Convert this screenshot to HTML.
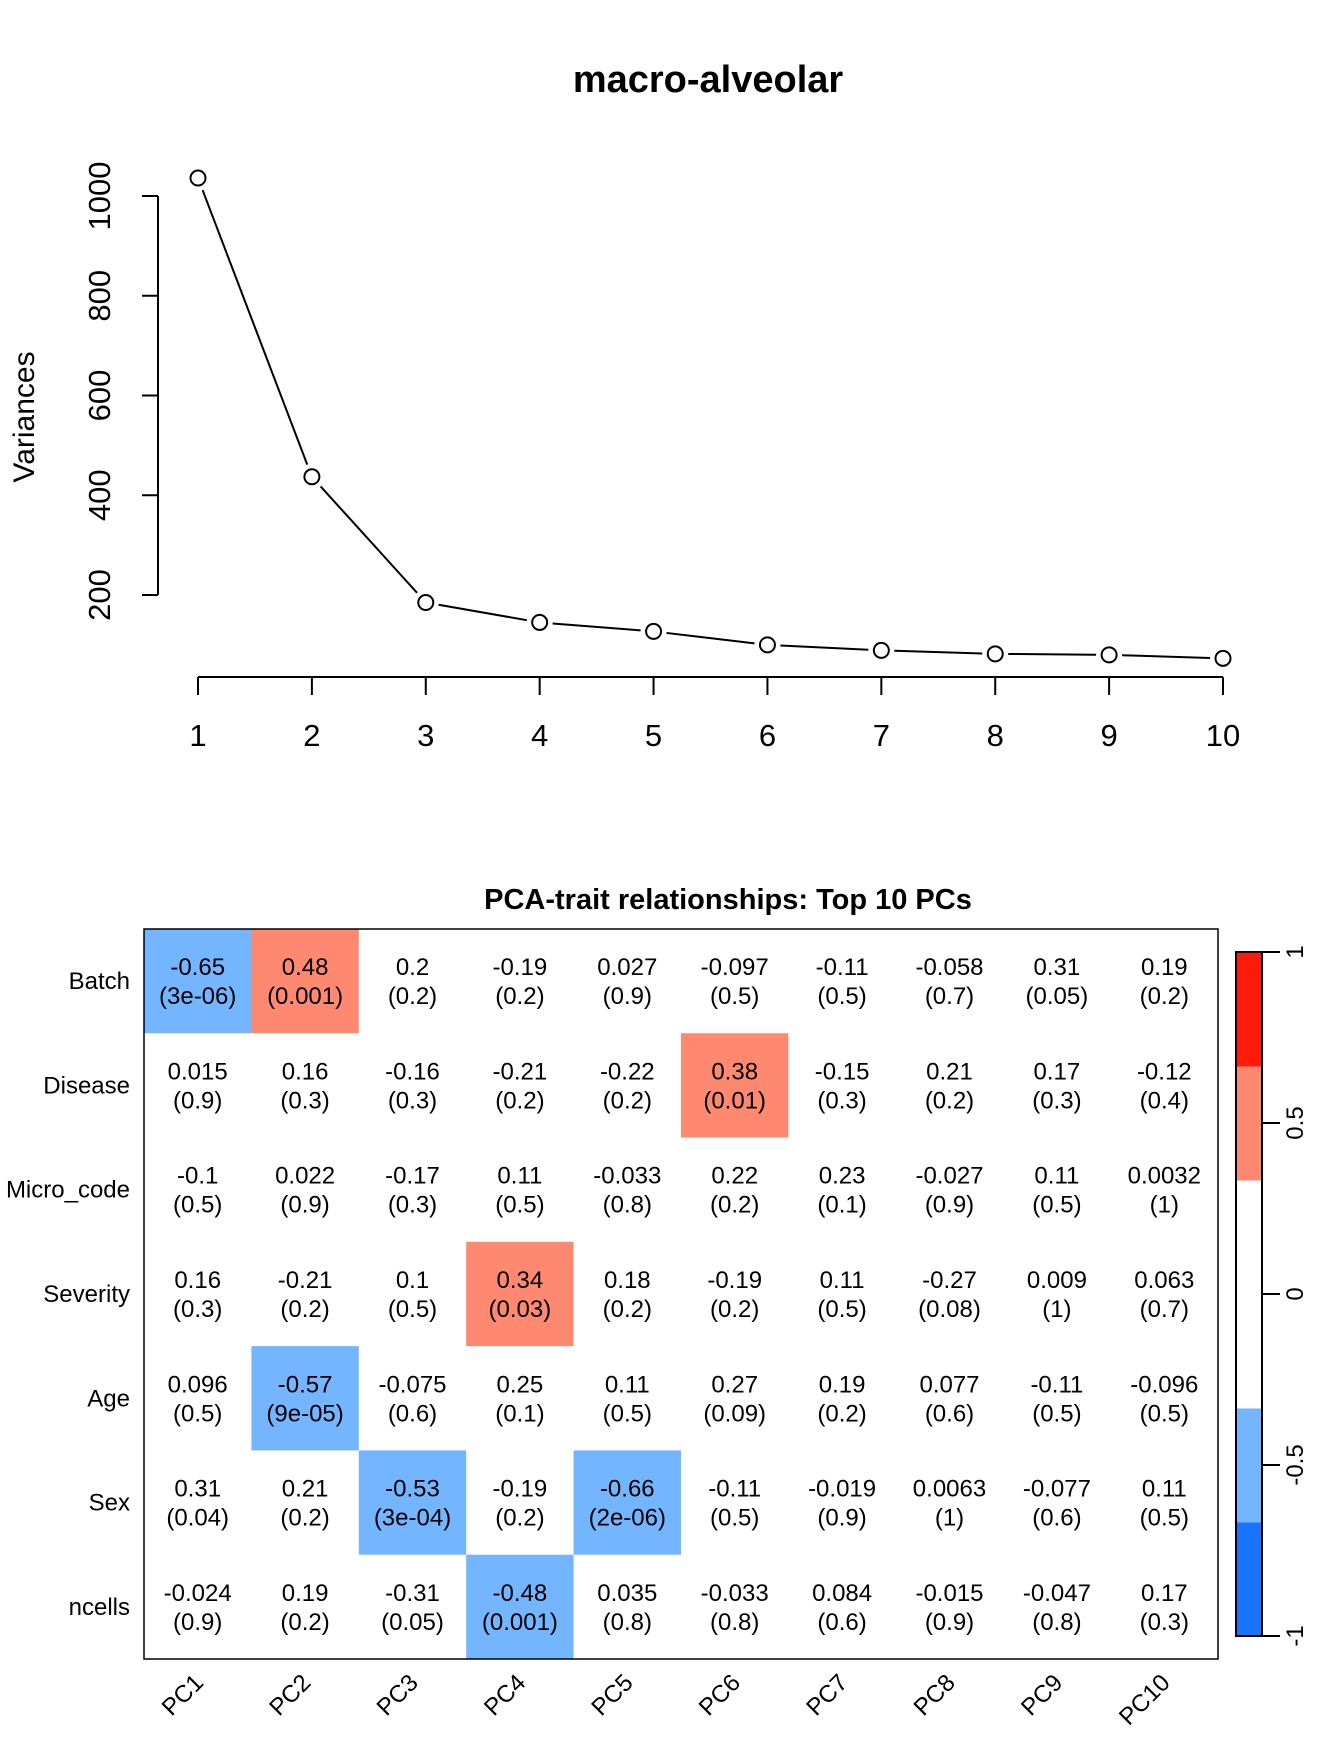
<!DOCTYPE html>
<html><head><meta charset="utf-8"><style>
html,body{margin:0;padding:0;background:#fff}
svg{display:block;font-family:"Liberation Sans",Arial,sans-serif}
</style></head><body>
<svg id="s" width="1344" height="1747" viewBox="0 0 1344 1747" xmlns="http://www.w3.org/2000/svg">
<text x="708" y="92" font-size="38" font-weight="bold" text-anchor="middle">macro-alveolar</text>
<text transform="translate(34,417) rotate(-90)" font-size="30" text-anchor="middle">Variances</text>
<g id="scree"></g>
<text x="728" y="909" font-size="29" font-weight="bold" text-anchor="middle">PCA-trait relationships: Top 10 PCs</text>
<g id="heat"></g>
<g id="cbar"></g>
</svg>
<script>
const pcIndex=[1,2,3,4,5,6,7,8,9,10];
const variances=[1036,437,185,145,127,100,89,82,80,73];
const yTicks=[200,400,600,800,1000];
const traits=["Batch","Disease","Micro_code","Severity","Age","Sex","ncells"];
const pcs=["PC1","PC2","PC3","PC4","PC5","PC6","PC7","PC8","PC9","PC10"];
const corrs=[
[-0.65,0.48,0.2,-0.19,0.027,-0.097,-0.11,-0.058,0.31,0.19],
[0.015,0.16,-0.16,-0.21,-0.22,0.38,-0.15,0.21,0.17,-0.12],
[-0.1,0.022,-0.17,0.11,-0.033,0.22,0.23,-0.027,0.11,0.0032],
[0.16,-0.21,0.1,0.34,0.18,-0.19,0.11,-0.27,0.009,0.063],
[0.096,-0.57,-0.075,0.25,0.11,0.27,0.19,0.077,-0.11,-0.096],
[0.31,0.21,-0.53,-0.19,-0.66,-0.11,-0.019,0.0063,-0.077,0.11],
[-0.024,0.19,-0.31,-0.48,0.035,-0.033,0.084,-0.015,-0.047,0.17]];
const pvals=[
["3e-06","0.001","0.2","0.2","0.9","0.5","0.5","0.7","0.05","0.2"],
["0.9","0.3","0.3","0.2","0.2","0.01","0.3","0.2","0.3","0.4"],
["0.5","0.9","0.3","0.5","0.8","0.2","0.1","0.9","0.5","1"],
["0.3","0.2","0.5","0.03","0.2","0.2","0.5","0.08","1","0.7"],
["0.5","9e-05","0.6","0.1","0.5","0.09","0.2","0.6","0.5","0.5"],
["0.04","0.2","3e-04","0.2","2e-06","0.5","0.9","1","0.6","0.5"],
["0.9","0.2","0.05","0.001","0.8","0.8","0.6","0.9","0.8","0.3"]];
const cbTicks=[-1,-0.5,0,0.5,1];
const palette=["#1874FF","#74B5FF","#FFFFFF","#FFFFFF","#FF8870","#FF1A0A"];

const NS="http://www.w3.org/2000/svg";
function mk(tag,attrs,parent){const e=document.createElementNS(NS,tag);for(const k in attrs)e.setAttribute(k,attrs[k]);parent.appendChild(e);return e;}
const g=document.getElementById('scree');
const sx=i=>198+(i-1)*(1223-198)/9;
const sy=v=>196+(1000-v)*(595-196)/800;
let l=mk('line',{x1:158,y1:sy(200),x2:158,y2:sy(1000),stroke:'#000','stroke-width':2},g);


yTicks.forEach(t=>{
 mk('line',{x1:142,y1:sy(t),x2:158,y2:sy(t),stroke:'#000','stroke-width':2},g);
 const tx=mk('text',{transform:`translate(110,${sy(t)}) rotate(-90)`,'font-size':31,'text-anchor':'middle'},g);
 tx.textContent=t;
 
 
});
l=mk('line',{x1:sx(1),y1:677,x2:sx(10),y2:677,stroke:'#000','stroke-width':2},g);


pcIndex.forEach(i=>{
 mk('line',{x1:sx(i),y1:677,x2:sx(i),y2:695,stroke:'#000','stroke-width':2},g);
 const tx=mk('text',{x:sx(i),y:746,'font-size':31,'text-anchor':'middle'},g);
 tx.textContent=i;
 
 
});
for(let k=0;k<pcIndex.length-1;k++){
 const x1=sx(pcIndex[k]),y1=sy(variances[k]),x2=sx(pcIndex[k+1]),y2=sy(variances[k+1]);
 const d=Math.hypot(x2-x1,y2-y1),r=13/d;
 if(d>26){const s=mk('line',{x1:x1+(x2-x1)*r,y1:y1+(y2-y1)*r,x2:x2-(x2-x1)*r,y2:y2-(y2-y1)*r,stroke:'#000','stroke-width':2},g);
 
 }
}
pcIndex.forEach((i,k)=>{
 const c=mk('circle',{cx:sx(i),cy:sy(variances[k]),r:7.5,fill:'none',stroke:'#000','stroke-width':2},g);
 
 
});
const h=document.getElementById('heat');
const X0=144,X1=1218,Y0=929,Y1=1659;
const cw=(X1-X0)/pcs.length,ch=(Y1-Y0)/traits.length;
const colorOf=v=>palette[Math.min(5,Math.max(0,Math.floor((v+1)/2*6)))];
traits.forEach((t,r)=>{
 const lb=mk('text',{x:130,y:Y0+ch*(r+0.5)+8,'font-size':24,'text-anchor':'end'},h);
 lb.textContent=t;
 
 
 pcs.forEach((p,c)=>{
  const v=corrs[r][c];
  const rc=mk('rect',{x:X0+c*cw,y:Y0+r*ch,width:cw+0.5,height:ch+0.5,fill:colorOf(v)},h);
  
  
  const cx=X0+cw*(c+0.5),cy=Y0+ch*(r+0.5);
  const t1=mk('text',{x:cx,y:cy-6,'font-size':24,'text-anchor':'middle'},h);
  t1.textContent=v;
  
  
  const t2=mk('text',{x:cx,y:cy+23,'font-size':24,'text-anchor':'middle'},h);
  t2.textContent='('+pvals[r][c]+')';
  
  
 });
});
const bx=mk('rect',{x:X0,y:Y0,width:X1-X0,height:Y1-Y0,fill:'none',stroke:'#000','stroke-width':1.5},h);


pcs.forEach((p,c)=>{
 const cx=X0+cw*(c+0.5)+7;
 const tx=mk('text',{transform:`translate(${cx},1684) rotate(-45)`,'font-size':24,'text-anchor':'end'},h);
 tx.textContent=p;
 
 
});
const cb=document.getElementById('cbar');
const CX0=1236,CX1=1262,CY0=952,CY1=1636;
const cy=v=>CY1-(v+1)/2*(CY1-CY0);
palette.forEach((col,k)=>{
 const lo=-1+k/3,hi=-1+(k+1)/3;
 const r=mk('rect',{x:CX0,y:cy(hi),width:CX1-CX0,height:cy(lo)-cy(hi)+0.5,fill:col},cb);
 
 
});
mk('rect',{x:CX0,y:CY0,width:CX1-CX0,height:CY1-CY0,fill:'none',stroke:'#000','stroke-width':2},cb);
cbTicks.forEach(t=>{
 mk('line',{x1:CX1,y1:cy(t),x2:1280,y2:cy(t),stroke:'#000','stroke-width':2},cb);
 const tx=mk('text',{transform:`translate(1303,${cy(t)}) rotate(-90)`,'font-size':24,'text-anchor':'middle'},cb);
 tx.textContent=t;
 
 
});
</script>
</body></html>
